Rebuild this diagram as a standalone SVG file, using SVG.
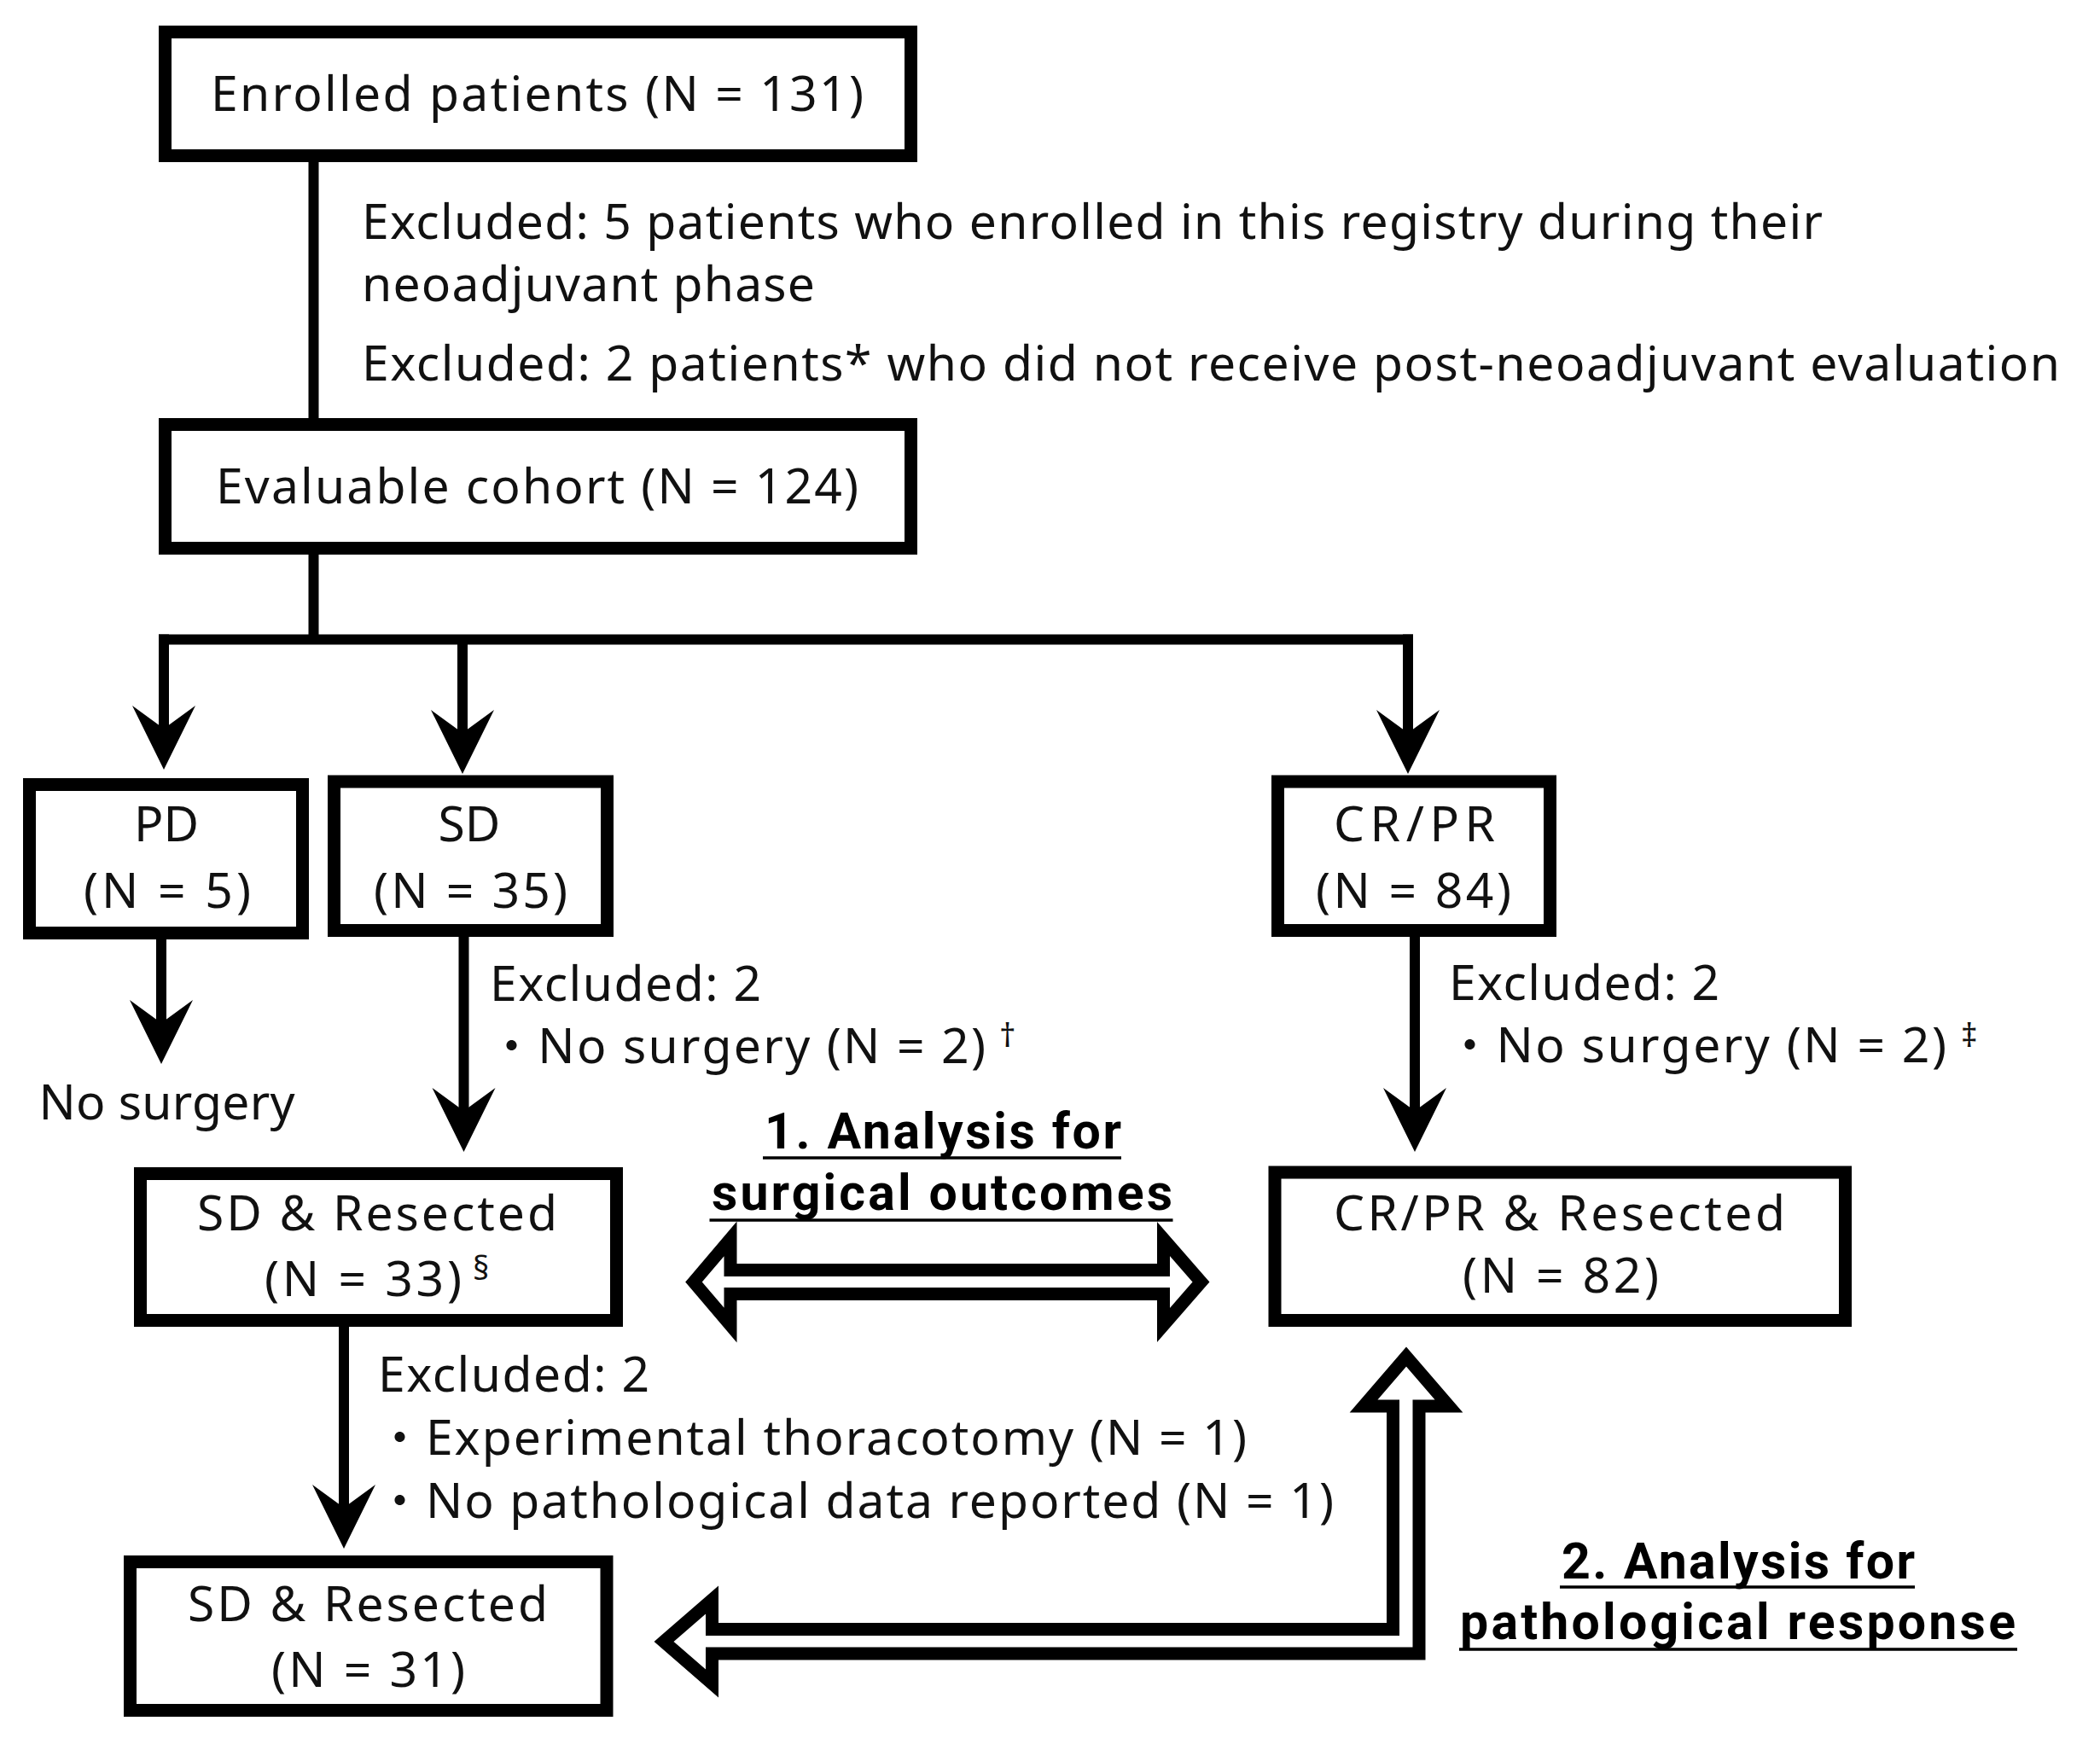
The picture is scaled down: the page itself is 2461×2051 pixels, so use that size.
<svg xmlns="http://www.w3.org/2000/svg" width="2461" height="2051" viewBox="0 0 2461 2051">
<defs>
<style>
.box{fill:#fff;stroke:#000;stroke-width:15}
.t{font-family:"Noto Sans","Liberation Sans","Noto Sans CJK JP",sans-serif;font-size:57px;fill:#111}
.b{font-family:Roboto,"Liberation Sans",sans-serif;font-size:59px;font-weight:700;fill:#000}
.sup{font-size:38px}
.ln{fill:none;stroke:#000;stroke-width:12}
.arr{marker-end:url(#ah)}
.hollow{fill:#fff;stroke:#000;stroke-width:15;stroke-linejoin:miter}
.ul{stroke:#000;stroke-width:3.5}
</style>
<marker id="ah" viewBox="-30 -40 80 80" markerWidth="80" markerHeight="80" refX="0" refY="0" markerUnits="userSpaceOnUse" orient="auto">
<path d="M48,0 L-27,-37 L0,0 L-27,37 Z" fill="#000"/>
</marker>
</defs>
<rect width="2461" height="2051" fill="#fff"/>

<g id="connectors">
<path class="ln" d="M367.5,190 V490"/>
<path class="ln" d="M367.5,650 V749.5"/>
<path class="ln" d="M186,749.5 H1656"/>
<path class="ln arr" d="M192,743.5 V854"/>
<path class="ln arr" d="M542,749.5 V859"/>
<path class="ln arr" d="M1650,743.5 V859"/>
<path class="ln arr" d="M189,1101 V1199"/>
<path class="ln arr" d="M543.5,1098 V1302"/>
<path class="ln arr" d="M1658,1098 V1302"/>
<path class="ln arr" d="M403,1555 V1767"/>
<path id="analysis1-arrow" class="hollow" d="M813,1502.5 L856,1452 L856,1488.5 L1363.5,1488.5 L1363.5,1452 L1407.5,1502.5 L1363.5,1553 L1363.5,1516.5 L856,1516.5 L856,1553 Z"/>
<path id="analysis2-arrow" class="hollow" d="M778,1924 L834.5,1875 L834.5,1909.5 L1632.5,1909.5 L1632.5,1648 L1598,1648 L1648,1590 L1698,1648 L1663,1648 L1663,1938 L834.5,1938 L834.5,1973 Z"/>
</g>

<g id="n-enrolled">
<rect class="box" x="193.5" y="37.5" width="874" height="145"/>
<text class="t" x="247" y="130" textLength="765">Enrolled patients (N = 131)</text>
</g>

<g id="excl-1">
<text class="t" x="424" y="280" textLength="1712">Excluded: 5 patients who enrolled in this registry during their</text>
<text class="t" x="424" y="353" textLength="531">neoadjuvant phase</text>
<text class="t" x="424" y="446" textLength="1990">Excluded: 2 patients* who did not receive post-neoadjuvant evaluation</text>
</g>

<g id="n-evaluable">
<rect class="box" x="193.5" y="497.5" width="874" height="145"/>
<text class="t" x="253" y="590" textLength="753">Evaluable cohort (N = 124)</text>
</g>

<g id="n-pd">
<rect class="box" x="34.5" y="919.5" width="320" height="174"/>
<text class="t" x="195" y="986" text-anchor="middle">PD</text>
<text class="t" x="98" y="1064" textLength="196">(N = 5)</text>
</g>

<g id="n-sd">
<rect class="box" x="391.5" y="916" width="320" height="174.5"/>
<text class="t" x="550" y="986" text-anchor="middle">SD</text>
<text class="t" x="438" y="1064" textLength="227">(N = 35)</text>
</g>

<g id="n-crpr">
<rect class="box" x="1497.5" y="916" width="319" height="174.5"/>
<text class="t" x="1563" y="986" textLength="189">CR/PR</text>
<text class="t" x="1542" y="1064" textLength="229">(N = 84)</text>
</g>

<g id="pd-outcome">
<text class="t" x="45.5" y="1311.5" textLength="300">No surgery</text>
</g>

<g id="excl-sd">
<text class="t" x="574" y="1173" textLength="318">Excluded: 2</text>
<text class="t" x="571" y="1246" textLength="584">・No surgery (N = 2)</text>
<text class="t sup" x="1171" y="1227">†</text>
</g>

<g id="excl-crpr">
<text class="t" x="1698" y="1172" textLength="317">Excluded: 2</text>
<text class="t" x="1694" y="1245" textLength="587">・No surgery (N = 2)</text>
<text class="t sup" x="2298" y="1227">‡</text>
</g>

<g id="n-sdres33">
<rect class="box" x="164.5" y="1375.5" width="558" height="172"/>
<text class="t" x="231" y="1442" textLength="422">SD &amp; Resected</text>
<text class="t" x="310" y="1519" textLength="231">(N = 33)</text>
<text class="t" x="554" y="1500" style="font-size:38px">§</text>
</g>

<g id="n-crprres">
<rect class="box" x="1494" y="1374" width="668.5" height="173.5"/>
<text class="t" x="1563" y="1441.5" textLength="529">CR/PR &amp; Resected</text>
<text class="t" x="1714" y="1515" textLength="230">(N = 82)</text>
</g>

<g id="excl-sdres">
<text class="t" x="443" y="1631" textLength="318">Excluded: 2</text>
<text class="t" x="440" y="1705" textLength="1021">・Experimental thoracotomy (N = 1)</text>
<text class="t" x="440" y="1778.5" textLength="1123">・No pathological data reported (N = 1)</text>
</g>

<g id="n-sdres31">
<rect class="box" x="152.5" y="1830.5" width="558.5" height="174"/>
<text class="t" x="220" y="1900" textLength="422">SD &amp; Resected</text>
<text class="t" x="318" y="1977" textLength="227">(N = 31)</text>
</g>

<g id="label-analysis1">
<text class="b" x="896" y="1346" textLength="418">1. Analysis for</text>
<line class="ul" x1="894" y1="1357" x2="1314" y2="1357"/>
<text class="b" x="834" y="1418" textLength="540">surgical outcomes</text>
<line class="ul" x1="831.5" y1="1430" x2="1374.5" y2="1430"/>
</g>

<g id="label-analysis2">
<text class="b" x="1830" y="1850" textLength="414">2. Analysis for</text>
<line class="ul" x1="1828" y1="1860" x2="2244" y2="1860"/>
<text class="b" x="1711" y="1921" textLength="651">pathological response</text>
<line class="ul" x1="1710" y1="1933" x2="2364" y2="1933"/>
</g>
</svg>
